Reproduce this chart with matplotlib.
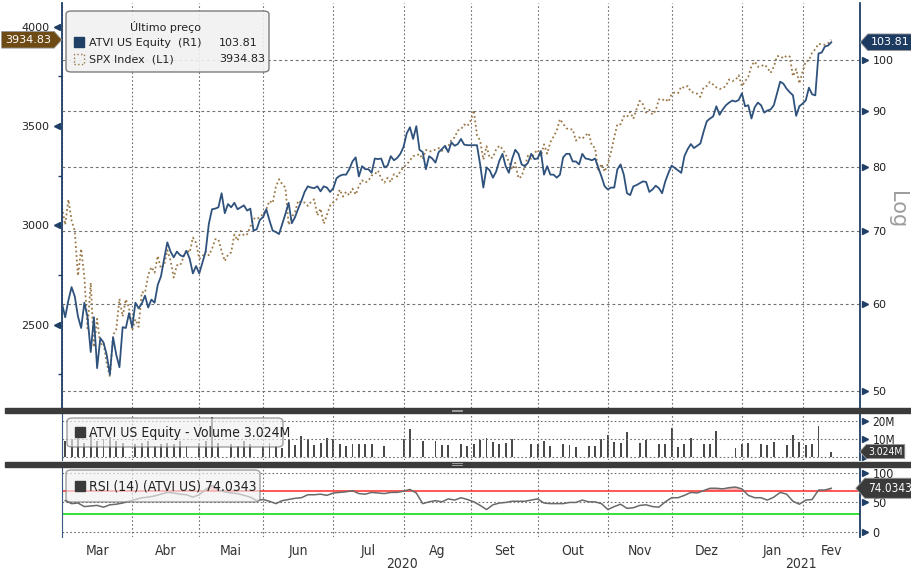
import matplotlib
matplotlib.use('Agg')   # no display

import matplotlib.pyplot as plt
import matplotlib.transforms as mtransforms
from matplotlib.patches import Rectangle, FancyBboxPatch
from matplotlib.path import Path
from matplotlib.lines import Line2D
from matplotlib.ticker import NullLocator
import numpy as np
import pandas as pd

W, H = 912, 569

# NYSE trading days shown on the chart
holidays = ['2020-04-10', '2020-05-25', '2020-07-03', '2020-09-07',
            '2020-11-26', '2020-12-25', '2021-01-01', '2021-01-18']
days = pd.bdate_range('2020-03-02', '2021-02-12')
days = days[~days.isin(pd.to_datetime(holidays))]

month_labels = ['Mar', 'Abr', 'Mai', 'Jun', 'Jul', 'Ag', 'Set', 'Out', 'Nov', 'Dez', 'Jan', 'Fev']
year_labels = ['2020', '2021']

# SPX Index (left axis), one value per trading day
spx = [
    3090, 3003, 3130, 3024, 2972, 2746, 2882, 2741, 2481, 2711, 2386, 2529, 2398, 2409, 2305, 2237,
    2447, 2476, 2630, 2541, 2627, 2585,
    2471, 2527, 2489, 2664, 2660, 2750, 2790, 2762, 2846, 2783, 2800, 2875, 2823, 2737, 2799, 2798,
    2837, 2878, 2863, 2939, 2912,
    2831, 2843, 2868, 2849, 2882, 2930, 2930, 2870, 2820, 2852, 2864, 2954, 2923, 2972, 2949, 2955,
    2992, 3036, 3030, 3044,
    3056, 3081, 3123, 3112, 3194, 3232, 3207, 3190, 3002, 3041, 3067, 3125, 3114, 3115, 3098, 3118,
    3131, 3050, 3084, 3009, 3053, 3100,
    3116, 3130, 3180, 3145, 3169, 3152, 3185, 3155, 3197, 3227, 3215, 3225, 3251, 3257, 3276, 3236,
    3215, 3239, 3218, 3258, 3246, 3271,
    3295, 3306, 3327, 3349, 3351, 3360, 3333, 3380, 3373, 3373, 3382, 3389, 3375, 3385, 3397, 3431,
    3443, 3478, 3484, 3508, 3500,
    3527, 3580, 3455, 3427, 3331, 3399, 3339, 3341, 3383, 3401, 3385, 3357, 3320, 3281, 3315, 3237,
    3246, 3298, 3351, 3335, 3363,
    3381, 3348, 3408, 3361, 3419, 3447, 3477, 3535, 3512, 3489, 3483, 3484, 3427, 3443, 3436, 3453,
    3465, 3401, 3391, 3271, 3310, 3270,
    3310, 3370, 3443, 3510, 3509, 3550, 3545, 3572, 3537, 3585, 3627, 3610, 3568, 3582, 3558, 3578,
    3635, 3629, 3638, 3622,
    3662, 3669, 3666, 3699, 3692, 3702, 3673, 3668, 3663, 3647, 3695, 3702, 3722, 3709, 3695, 3687,
    3690, 3703, 3735, 3727, 3732, 3756,
    3701, 3726, 3748, 3804, 3825, 3799, 3801, 3810, 3795, 3768, 3799, 3852, 3853, 3841, 3855, 3850,
    3751, 3787, 3714,
    3774, 3826, 3830, 3871, 3887, 3915, 3911, 3910, 3917, 3934.83,
]

# ATVI US Equity (right, log axis), one value per trading day
atvi = [
    60.1, 58.4, 60.5, 62.2, 61.0, 58.5, 57.1, 60.2, 58.4, 54.3, 58.4, 52.5, 55.9, 55.4, 54.0, 51.8,
    56.0, 54.0, 52.6, 57.2, 57.1, 58.9,
    57.2, 60.2, 59.5, 60.1, 61.1, 59.6, 60.6, 60.2, 62.5, 63.6, 66.0, 68.3, 67.0, 66.2, 67.0, 66.5,
    66.3, 67.1, 66.0, 64.0, 65.0,
    64.0, 65.5, 67.0, 71.0, 73.2, 73.3, 73.5, 75.7, 72.6, 74.0, 73.5, 74.2, 73.2, 73.5, 73.8, 73.0,
    73.3, 70.0, 70.2, 71.6,
    72.0, 73.2, 71.5, 70.0, 69.8, 69.5, 71.0, 72.5, 74.2, 71.1, 72.0, 73.3, 74.5, 75.9, 76.8, 76.6,
    76.5, 76.8, 76.0, 76.8, 76.6, 75.9,
    76.5, 78.1, 78.5, 78.7, 78.7, 79.6, 80.9, 81.6, 78.4, 80.1, 79.6, 79.6, 79.0, 81.4, 81.3, 81.4,
    79.9, 80.2, 81.8, 81.1, 81.5, 82.2,
    83.4, 85.8, 86.9, 84.8, 87.1, 82.9, 82.5, 79.6, 81.8, 81.4, 80.7, 82.5, 83.0, 83.6, 82.5, 84.2,
    83.6, 83.9, 84.8, 83.8, 83.7,
    83.7, 83.7, 83.7, 80.4, 76.6, 79.9, 79.4, 78.2, 79.2, 81.0, 82.2, 80.1, 79.0, 81.3, 82.9, 82.2,
    80.4, 80.1, 80.7, 82.2, 81.3,
    81.4, 82.7, 78.7, 80.1, 78.7, 78.7, 78.2, 78.7, 81.6, 82.2, 82.2, 80.9, 80.9, 80.4, 82.2, 81.4,
    81.3, 81.1, 81.4, 79.9, 78.4, 76.8,
    76.3, 76.6, 76.6, 79.6, 80.4, 78.7, 75.7, 75.4, 76.8, 77.0, 77.3, 77.6, 77.5, 75.9, 76.3, 76.9,
    76.5, 75.7, 77.6, 79.0,
    80.2, 79.8, 79.4, 79.0, 81.8, 83.0, 83.9, 83.2, 83.6, 84.0, 86.1, 88.0, 88.5, 88.9, 90.8, 89.2,
    90.2, 91.0, 91.5, 91.9, 91.7, 92.0,
    93.3, 90.8, 91.0, 88.5, 90.6, 91.5, 91.0, 89.6, 90.0, 90.2, 91.0, 93.3, 95.6, 95.2, 94.2, 93.5,
    92.9, 89.0, 90.8,
    91.3, 91.9, 94.4, 93.1, 92.9, 101.4, 101.6, 102.9, 103.1, 103.81,
]

# RSI (14) and volume (millions), every second trading day (None = no bar visible)
rsi = [
    53, 48, 49, 43, 44, 45, 42, 46, 47, 49, 52,
    55, 58, 59, 61, 64, 67, 66, 64, 63, 59,
    63, 72, 79, 71, 68, 66, 65, 62, 59, 53,
    55, 52, 48, 53, 55, 57, 58, 63, 63, 64, 62,
    66, 67, 68, 70, 65, 64, 67, 66, 65, 67, 67,
    69, 72, 66, 48, 51, 53, 51, 56, 54, 58, 55,
    51, 45, 38, 46, 49, 50, 52, 52, 52, 54,
    56, 49, 48, 48, 48, 50, 50, 54, 51, 51, 48,
    38, 43, 47, 40, 41, 45, 46, 43, 42, 51,
    58, 58, 62, 67, 66, 70, 74, 74, 73, 75, 76,
    73, 62, 58, 58, 54, 59, 67, 64, 52, 47,
    54, 55, 71, 71, 74.0343,
]
volume = [
    9, 10, 11, 8, 12, 9, 10, 11, 9, 8, None,
    7, 8, 9, 6, 7, 8, 7, 9, 6, None,
    8, 9, 22, 8, None, 7, 6, 9, 7, None,
    6, 8, 6, 5, 9.4, 6.7, 11.5, 10, 6.7, 7.8, 10.6,
    10, 7.4, 6.1, 7.2, 7.4, 7.2, 7.0, None, 6.1, None, None,
    10, 15.6, None, 8.8, None, 8.8, 6.7, 6.7, None, 7.2, 6.1,
    7.4, 9.6, 10.4, 8.5, 7.2, 7.8, 9.8, None, None, 7.4,
    7.4, 8.7, 6.3, None, 7.2, 6.5, 5.6, None, 6.3, 6.3, 10,
    12.2, 8.5, 7.8, 13.7, None, 7.8, 9.6, None, 7.4, 7.4,
    15.9, 5.6, 7.2, 10.4, None, 7.4, 7.4, 14.4, None, None, 5.2,
    7.4, 7.6, None, 7.2, 6.5, 8.5, None, 6.5, 12.0, 8.1,
    6.5, 7.2, 17, None, 3.024,
]

atvi_ticks = [50, 60, 70, 80, 90, 100]
spx_ticks = [2500, 3000, 3500, 4000]
spx_minor = [2250, 2750, 3250, 3750]

NAVY = '#1f3f66'
BROWN = '#9a7847'
GRIDC = '#707070'
NARROW = ['Liberation Sans Narrow', 'DejaVu Sans']
COND = dict(family=NARROW, stretch='condensed')
DOTS = (0, (1.5, 2))


def tag(point, padf=0.3):
    # price tag box with a pointed side
    def style(x0, y0, width, height, mutation_size):
        pad = padf * mutation_size
        x0, y0 = x0 - pad, y0 - pad
        x1, y1 = x0 + width + 2 * pad, y0 + height + 2 * pad
        ym = (y0 + y1) / 2
        d = 0.45 * (y1 - y0)
        if point == 'left':
            verts = [(x0, y0), (x1, y0), (x1, y1), (x0, y1), (x0 - d, ym), (x0, y0)]
        else:
            verts = [(x0, y0), (x1, y0), (x1 + d, ym), (x1, y1), (x0, y1), (x0, y0)]
        return Path(verts, closed=True)
    return style


def tri_ticks(a, vals, side, shift=3.5):
    sign = 1 if side == 'right' else -1
    tr = mtransforms.blended_transform_factory(a.transAxes, a.transData)
    tr = tr + mtransforms.ScaledTranslation(sign * shift / 72, 0, a.figure.dpi_scale_trans)
    a.plot([1 if side == 'right' else 0] * len(vals), vals, ls='none',
           marker='>' if side == 'right' else '<', ms=4.5, color=NAVY,
           transform=tr, clip_on=False, zorder=5)


def right_tag(a, text, value, color, size=8, narrow=False, offset=8, padf=0.3):
    kw = COND if narrow else {}
    a.annotate(text, xy=(1, value),
               xycoords=mtransforms.blended_transform_factory(a.transAxes, a.transData),
               xytext=(offset, 0), textcoords='offset points', ha='left', va='center',
               color='white', fontsize=size, annotation_clip=False,
               bbox=dict(boxstyle=tag('left', padf), fc=color, ec='#9a9a9a', lw=0.6),
               zorder=6, **kw)


fig = plt.figure(figsize=(W / 100, H / 100), dpi=100)
x = np.arange(len(days))
x2 = x[1::2]
starts = np.flatnonzero(np.r_[True, days.month[1:] != days.month[:-1]])
XMAX = 250

# ==============================
# main panel: SPX left, ATVI right (log)
# ==============================
ax = fig.add_axes([62 / W, 1 - 408 / H, 798 / W, 405 / H])
axr = ax.twinx()

ax.plot(x, spx, color=BROWN, lw=1.3, ls=(0, (1, 1.5)))
axr.plot(x, atvi, color='#2f527d', lw=1.3)

ax.set_xlim(0, XMAX)
ax.set_ylim(2080, 4120)
axr.set_yscale('log')
axr.set_ylim(48.3, 112.7)

ax.set_xticks(starts)
ax.tick_params(axis='x', length=0, labelbottom=False)
ax.grid(axis='x', color=GRIDC, ls=DOTS, lw=0.8)

ax.set_yticks(spx_ticks)
ax.set_yticklabels([str(v) for v in spx_ticks])
ax.set_yticks(spx_minor, minor=True)
ax.tick_params(axis='y', which='major', length=0, pad=9, labelsize=8, labelcolor='#222222')
ax.tick_params(axis='y', which='minor', length=3, width=1, color=NAVY)
tri_ticks(ax, spx_ticks, 'left')

axr.yaxis.set_minor_locator(NullLocator())
axr.set_yticks(atvi_ticks)
axr.set_yticklabels([str(v) for v in atvi_ticks])
axr.tick_params(axis='y', which='major', length=0, pad=9, labelsize=8, labelcolor='#222222')
axr.grid(axis='y', color=GRIDC, ls=(0, (2.5, 2.5)), lw=0.8)
tri_ticks(axr, atvi_ticks, 'right')

for s in ['top', 'bottom', 'right']:
    ax.spines[s].set_visible(False)
for s in ['top', 'bottom', 'left']:
    axr.spines[s].set_visible(False)
ax.spines['left'].set_color(NAVY)
ax.spines['left'].set_linewidth(1.3)
axr.spines['right'].set_color(NAVY)
axr.spines['right'].set_linewidth(1.3)

right_tag(axr, f'{atvi[-1]:.2f}', atvi[-1], '#1d3b60')
ax.annotate(f'{spx[-1]:.2f}', xy=(0, spx[-1]),
            xycoords=mtransforms.blended_transform_factory(ax.transAxes, ax.transData),
            xytext=(-8, 0), textcoords='offset points', ha='right', va='center',
            color='white', fontsize=8, annotation_clip=False,
            bbox=dict(boxstyle=tag('right'), fc='#6e4b14', ec='#9a9a9a', lw=0.6), zorder=6)

fig.text(897 / W, 1 - 210 / H, 'Log', rotation=270, fontsize=15, color='#9d9d9d',
         ha='center', va='center')

# ==============================
# volume panel
# ==============================
axv = fig.add_axes([62 / W, 1 - 460 / H, 798 / W, 47 / H])
vol = np.array(volume, dtype=float)
keep = ~np.isnan(vol)
axv.bar(x2[keep], vol[keep], width=0.6, color='#4a4a4a')
axv.set_xlim(0, XMAX)
axv.set_ylim(-1.67, 24.4)
axv.set_xticks(starts)
axv.tick_params(axis='x', length=0, labelbottom=False)
axv.yaxis.tick_right()
axv.set_yticks([0, 10, 20])
axv.set_yticklabels(['', '10M', '20M'], **COND)
axv.tick_params(axis='y', length=0, pad=9, labelsize=8.5, labelcolor='#222222')
axv.grid(color=GRIDC, ls=DOTS, lw=0.8)
tri_ticks(axv, [0, 10, 20], 'right')
right_tag(axv, f'{vol[-1]:.3f}M', vol[-1], '#3a3a3a', size=7.5, narrow=True, offset=6, padf=0.2)

# ==============================
# RSI panel
# ==============================
axs = fig.add_axes([62 / W, 1 - 537 / H, 798 / W, 70 / H])
r = np.array(rsi, dtype=float)
axs.fill_between(x2, r, 70, where=r > 70, interpolate=True, color='#f6b4b4', lw=0)
axs.axhline(70, color='#ff2a2a', lw=1.1)
axs.axhline(30, color='#27dd27', lw=1.3)
axs.plot(x2, r, color='#6a6a6a', lw=1.1)
axs.set_xlim(0, XMAX)
axs.set_ylim(-8.5, 110)
axs.yaxis.tick_right()
axs.set_yticks([0, 50, 100])
axs.set_yticklabels(['0', '50', '100'], **COND)
axs.tick_params(axis='y', length=0, pad=9, labelsize=9, labelcolor='#222222')
axs.grid(axis='y', color=GRIDC, ls=DOTS, lw=0.8)
tri_ticks(axs, [0, 50, 100], 'right')
right_tag(axs, f'{rsi[-1]:.4f}', rsi[-1], '#3a3a3a', size=8.5, narrow=True, offset=6)

ends = np.r_[starts[1:], XMAX]
axs.set_xticks(starts)
axs.set_xticks((starts + ends) / 2, minor=True)
axs.set_xticklabels(month_labels, minor=True, **COND)
axs.tick_params(axis='x', which='major', length=0, labelbottom=False)
axs.tick_params(axis='x', which='minor', length=0, pad=5, labelsize=10, labelcolor='#333333')
axs.grid(axis='x', which='major', color=GRIDC, ls=DOTS, lw=0.8)

year_start = int(np.flatnonzero(days.year == 2021)[0])
ytr = mtransforms.blended_transform_factory(axs.transData, axs.transAxes)
for lbl, a, b in zip(year_labels, [0, year_start], [year_start, XMAX]):
    axs.text((a + b) / 2, -0.38, lbl, transform=ytr, ha='center', va='center',
             fontsize=10, color='#333333', **COND)

for a in (axv, axs):
    for s in ['top', 'bottom']:
        a.spines[s].set_visible(False)
    a.spines['left'].set_color('#3c5a80')
    a.spines['left'].set_linewidth(0.8)
    a.spines['right'].set_color(NAVY)
    a.spines['right'].set_linewidth(1.3)

# ==============================
# panel separators
# ==============================
for y0, y1 in [(408, 413), (461.5, 466.5)]:
    fig.add_artist(Rectangle((5 / W, 1 - y1 / H), 907 / W, (y1 - y0) / H,
                             transform=fig.transFigure, color='#3b3b3b', zorder=4))
    for dy in (1.6, 3.2):
        fig.add_artist(Line2D([452 / W, 462 / W], [1 - (y0 + dy) / H] * 2,
                              color='#b0b0b0', lw=0.6, zorder=5))

# ==============================
# legend boxes
# ==============================
def box(x0, y0, x1, y1, alpha):
    fig.add_artist(FancyBboxPatch((x0 / W, 1 - y1 / H), (x1 - x0) / W, (y1 - y0) / H,
                                  boxstyle='round,pad=0,rounding_size=0.006',
                                  transform=fig.transFigure, fc='#f1f1f1', ec='#6f6f6f',
                                  lw=1.0, alpha=alpha, zorder=7))


def square(x0, y0, size, **kw):
    fig.add_artist(Rectangle((x0 / W, 1 - (y0 + size) / H), size / W, size / H,
                             transform=fig.transFigure, zorder=8, **kw))


box(66, 11, 269, 72, 0.9)
fig.text(166 / W, 1 - 27 / H, 'Último preço', ha='center', va='center', fontsize=8, color='#222222', zorder=9)
square(74, 37, 10, fc='#1f3f66', ec='#1f3f66')
fig.text(89 / W, 1 - 43 / H, 'ATVI US Equity  (R1)', ha='left', va='center', fontsize=8, color='#222222', zorder=9)
fig.text(219 / W, 1 - 43 / H, f'{atvi[-1]:.2f}', ha='left', va='center', fontsize=8, color='#222222', zorder=9)
square(74, 54, 10, fc='none', ec=BROWN, ls=':', lw=1.0)
fig.text(89 / W, 1 - 59 / H, 'SPX Index  (L1)', ha='left', va='center', fontsize=8, color='#222222', zorder=9)
fig.text(219 / W, 1 - 59 / H, f'{spx[-1]:.2f}', ha='left', va='center', fontsize=8, color='#222222', zorder=9)

box(67, 418, 283, 447, 0.65)
square(75, 427, 10, fc='#3a3a3a', ec='#3a3a3a')
fig.text(89 / W, 1 - 433 / H, f'ATVI US Equity - Volume {vol[-1]:.3f}M', ha='left', va='center',
         fontsize=10, color='#222222', zorder=9, **COND)

box(66, 470, 260, 502, 0.65)
square(75, 481, 10, fc='#3a3a3a', ec='#3a3a3a')
fig.text(89 / W, 1 - 487 / H, f'RSI (14) (ATVI US) {rsi[-1]:.4f}', ha='left', va='center',
         fontsize=10, color='#222222', zorder=9, **COND)

fig.savefig('out.png', dpi=100)
